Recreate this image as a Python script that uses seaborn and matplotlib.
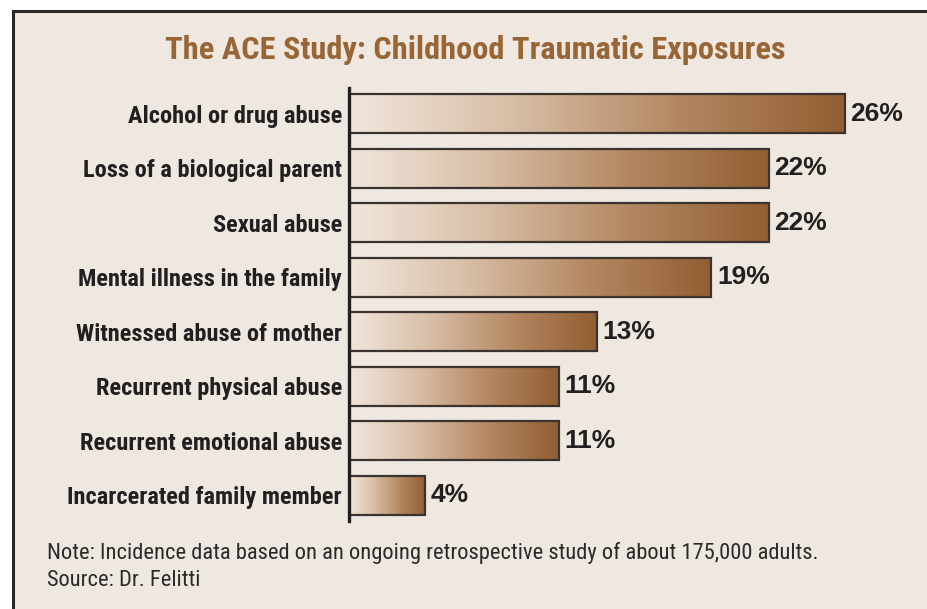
import numpy as np
import pandas as pd
import seaborn as sns
import matplotlib.pyplot as plt
from matplotlib.patches import Rectangle
from matplotlib.colors import LinearSegmentedColormap

categories = [
    "Alcohol or drug abuse",
    "Loss of a biological parent",
    "Sexual abuse",
    "Mental illness in the family",
    "Witnessed abuse of mother",
    "Recurrent physical abuse",
    "Recurrent emotional abuse",
    "Incarcerated family member",
]
percent = [26, 22, 22, 19, 13, 11, 11, 4]
value_labels = ["26%", "22%", "22%", "19%", "13%", "11%", "11%", "4%"]

title = "The ACE Study: Childhood Traumatic Exposures"
note = "Note: Incidence data based on an ongoing retrospective study of about 175,000 adults."
source = "Source: Dr. Felitti"

df = pd.DataFrame({"category": categories, "percent": percent})

narrow = ["Roboto Condensed", "PT Sans Narrow", "Liberation Sans", "DejaVu Sans"]
beige = "#EFE8E0"
brown = "#9A6535"
ink = "#231f20"

sns.set_style("white")

fig = plt.figure(figsize=(9.28, 6.09), dpi=100)
fig.patch.set_facecolor("white")
fig.patches.append(
    Rectangle((13 / 928, -0.01), 1.0, 1 - 11 / 609 + 0.01, transform=fig.transFigure,
              facecolor=beige, edgecolor="#2a2a2a", linewidth=2.2, zorder=-10)
)

ax = fig.add_axes([349 / 928, 1 - 521 / 609, 28 * 19.07 / 928, 433 / 609])
ax.set_facecolor("none")

sns.barplot(data=df, x="percent", y="category", orient="h", width=0.72,
            facecolor="none", edgecolor="#3a3330", linewidth=1.6, ax=ax)

# gradient fill clipped to each bar
cmap = LinearSegmentedColormap.from_list("ace", ["#F1E6DC", "#D7BDA5", "#B48761", "#925E32"])
grad = np.linspace(0, 1, 256).reshape(1, -1)
for bar in ax.patches:
    x0, y0 = bar.get_x(), bar.get_y()
    w, h = bar.get_width(), bar.get_height()
    im = ax.imshow(grad, cmap=cmap, aspect="auto", extent=(x0, x0 + w, y0 + h, y0),
                   zorder=bar.get_zorder() - 0.1, interpolation="bicubic")
    im.set_clip_path(bar)

for bar, lab in zip(ax.patches, value_labels):
    ax.text(bar.get_x() + bar.get_width() + 0.3, bar.get_y() + bar.get_height() / 2,
            lab, ha="left", va="center", fontsize=19, fontweight="bold",
            family=["Liberation Sans", "DejaVu Sans"], color=ink)

ax.set_xlim(0, 28)
ax.set_ylim(7.47, -0.47)
ax.set_xlabel("")
ax.set_ylabel("")
ax.set_xticks([])
for s in ["top", "right", "bottom"]:
    ax.spines[s].set_visible(False)
ax.spines["left"].set_linewidth(2.4)
ax.spines["left"].set_color(ink)
ax.tick_params(axis="y", length=0, pad=5)
for t in ax.get_yticklabels():
    t.set_fontfamily(narrow)
    t.set_fontweight("bold")
    t.set_fontsize(17.6)
    t.set_color(ink)

fig.text(475 / 928, 1 - 50 / 609, title, ha="center", va="center", fontsize=23.3,
         fontweight="bold", color=brown, family=narrow)
fig.text(47 / 928, 1 - 553 / 609, note, ha="left", va="center", fontsize=16.2,
         color="#2a2a2a", family=narrow)
fig.text(47 / 928, 1 - 581 / 609, source, ha="left", va="center", fontsize=16.2,
         color="#2a2a2a", family=narrow)

fig.savefig("out.png", dpi=100, facecolor=fig.get_facecolor())
